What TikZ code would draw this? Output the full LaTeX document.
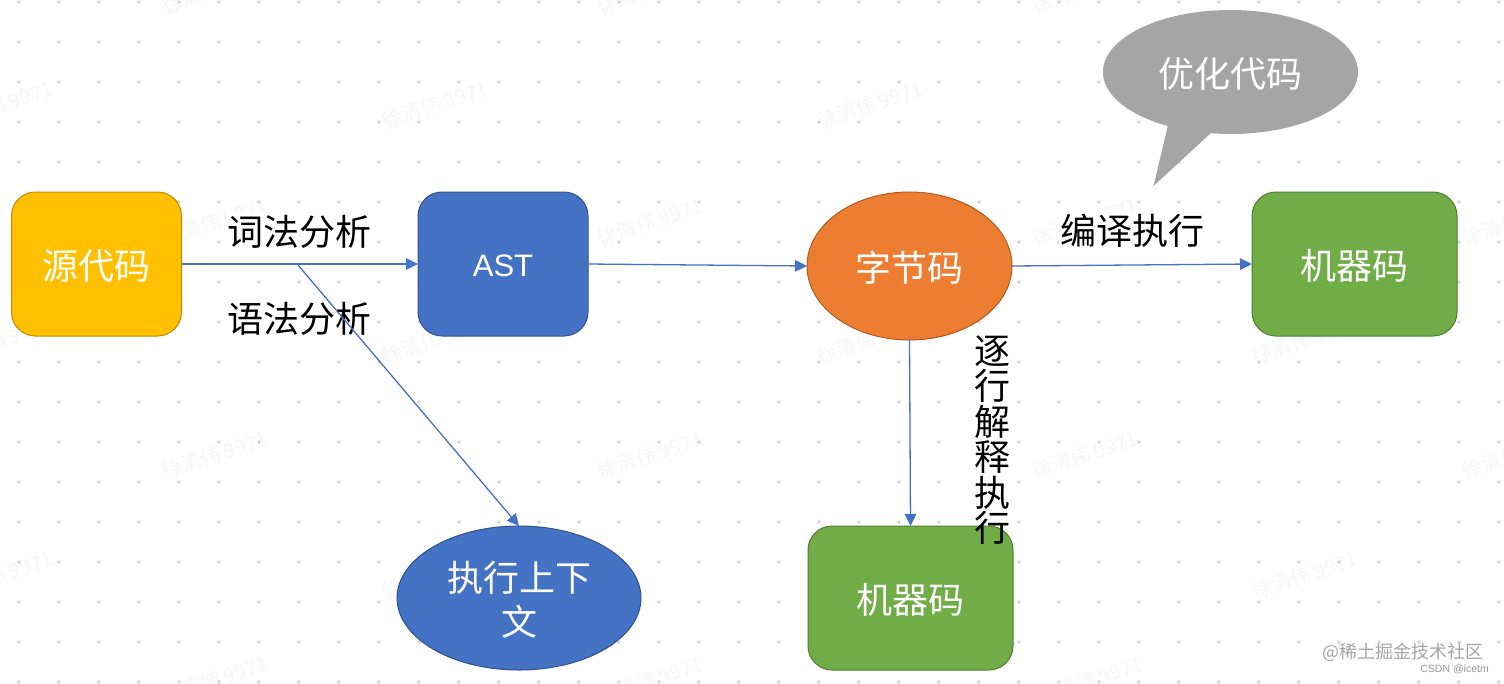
\documentclass[tikz,border=0pt]{standalone}
\usepackage{fontspec}
\setmainfont{Noto Sans CJK SC}
\newfontfamily\latinfont{Liberation Sans}
\usetikzlibrary{arrows.meta,shapes.geometric}
\definecolor{goldF}{HTML}{FFC000}\definecolor{goldD}{HTML}{BC8C00}
\definecolor{blueF}{HTML}{4472C4}\definecolor{blueD}{HTML}{2F528F}
\definecolor{orangeF}{HTML}{ED7D31}\definecolor{orangeD}{HTML}{AE5A21}
\definecolor{greenF}{HTML}{70AD47}\definecolor{greenD}{HTML}{507E32}
\definecolor{greyF}{HTML}{A5A5A5}
\definecolor{dotC}{HTML}{D2D2D2}
\definecolor{markC}{HTML}{F7F7F7}
\newcommand\lowr[1]{\raisebox{-2pt}[\height][\depth]{#1}}
\tikzset{
  big/.style={font=\fontsize{36}{44}\selectfont},
  rbox/.style={big,draw,rounded corners=24pt,line width=1pt,text=white,inner sep=0pt,outer sep=0pt,align=center},
  oval/.style={big,ellipse,draw,line width=1pt,text=white,inner sep=0pt,outer sep=0pt,align=center},
  caption/.style={big,text=black,inner sep=0pt},
  conn/.style={draw=blueF,line width=1.3pt,-{Triangle[length=12pt,width=11.5pt]}},
  wmark/.style={font=\fontsize{20}{24}\selectfont,text=markC,rotate=18,inner sep=0pt},
}
\begin{document}
\begin{tikzpicture}[x=1pt,y=-1pt]
\useasboundingbox (0,0) rectangle (1504,683);
\fill[white] (0,0) rectangle (1504,683);
% faint watermarks
\foreach \px/\py in {435/105,870/105,1305/105,0/105,215/-10,650/-10,1085/-10,215/222,650/222,1085/222,1515/222,0/340,435/340,870/340,1305/340,215/455,650/455,1085/455,1515/455,0/575,435/575,870/575,1305/575,215/680,650/680,1090/680}
  \node[wmark] at (\px,\py) {徐清伟 9971};
% dot grid
\foreach \i in {0,...,37}
  \foreach \j in {0,...,17}
    \fill[dotC] (19+40*\i,2+40*\j) circle (1.9);
% text backgrounds
\node[caption,fill=white,minimum width=146pt,minimum height=42pt] (lex) at (299,232) {词法分析};
\node[caption,fill=white,minimum width=146pt,minimum height=42pt] (syn) at (299,319) {语法分析};
\node[caption,fill=white,minimum width=146pt,minimum height=42pt] (comp) at (1132,231) {编译执行};
\fill[white] (972,332) rectangle (1014,526);
% shapes
\node[rbox,fill=goldF,draw=goldD,minimum width=170pt,minimum height=144pt] (src) at (96.5,264) {\lowr{源代码}};
\node[rbox,fill=blueF,draw=blueD,minimum width=170pt,minimum height=144pt] (ast) at (503,264) {\lowr{\fontsize{31}{36}\selectfont\latinfont AST}};
\node[oval,fill=orangeF,draw=orangeD,minimum width=205pt,minimum height=148pt] (bc) at (909.5,266) {\lowr{字节码}};
\node[rbox,fill=greenF,draw=greenD,minimum width=205pt,minimum height=144pt] (mr) at (1354.5,264) {\lowr{机器码}};
\node[rbox,fill=greenF,draw=greenD,minimum width=205pt,minimum height=144pt] (mb) at (910.5,598) {\lowr{机器码}};
\node[oval,fill=blueF,draw=blueD,minimum width=244pt,minimum height=144pt] (ctx) at (519,598) {\lowr{执行上下}\\\lowr{文}};
% speech bubble
\fill[greyF] (1168,125) -- (1153.5,186) -- (1212,132) -- cycle;
\node[big,ellipse,fill=greyF,text=white,inner sep=0pt,minimum width=255pt,minimum height=124pt] (opt) at (1230.5,72) {\lowr{优化代码}};
% connectors
\coordinate (fork) at (298,265);
\draw[conn] (src.east) -- (ast.west);
\draw[conn] (ast.east) -- (bc.west);
\draw[conn] (bc.east) -- (mr.west);
\draw[conn] (bc.south) -- (mb.north);
\draw[conn] (fork) -- (ctx.north);
% vertical label
\node[big,text=black,inner sep=0pt,align=center,text width=37pt,font=\fontsize{36}{35.5}\selectfont] (vert) at (992,440) {逐\\行\\解\\释\\执\\行};
% corner marks
\node[font=\fontsize{18}{22}\selectfont,text=black!35,inner sep=0pt,anchor=east] (m1) at (1484,652) {@稀土掘金技术社区};
\node[font=\fontsize{10.5}{12}\selectfont\latinfont,text=black!40,inner sep=0pt,anchor=east] (m2) at (1489,669) {CSDN @icetm};
\end{tikzpicture}
\end{document}
